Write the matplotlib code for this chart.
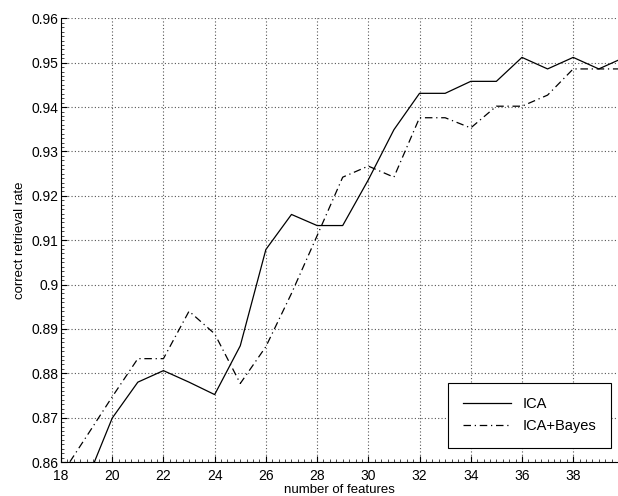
import matplotlib.pyplot as plt
from matplotlib.ticker import MultipleLocator

plt.rcParams['font.family'] = ['Liberation Sans', 'DejaVu Sans']

features = list(range(18, 41))
ica = [0.850, 0.8557, 0.8699, 0.878, 0.8806, 0.878, 0.8752, 0.8862, 0.9079,
       0.9158, 0.9133, 0.9133, 0.9236, 0.9349, 0.9431, 0.9431, 0.9458, 0.9458,
       0.9512, 0.9486, 0.9512, 0.9486, 0.9512]
ica_bayes = [0.857, 0.8658, 0.8747, 0.8833, 0.8833, 0.894, 0.8889, 0.8777, 0.886,
             0.898, 0.911, 0.9242, 0.9267, 0.9242, 0.9376, 0.9376, 0.9353, 0.9402,
             0.9402, 0.9427, 0.9486, 0.9486, 0.9486]
xticks = [18, 20, 22, 24, 26, 28, 30, 32, 34, 36, 38]
yticks = [0.86, 0.87, 0.88, 0.89, 0.9, 0.91, 0.92, 0.93, 0.94, 0.95, 0.96]
yticklabels = ['0.86', '0.87', '0.88', '0.89', '0.9', '0.91', '0.92', '0.93', '0.94', '0.95', '0.96']

fig = plt.figure(figsize=(6.18, 4.96), dpi=100)
ax = fig.add_axes([0.0987, 0.0685, 0.9013, 0.8945])

ax.plot(features, ica, color='black', linestyle='-', linewidth=0.9, label='ICA')
ax.plot(features, ica_bayes, color='black', linestyle=(0, (6, 3, 1, 3)), linewidth=0.9, label='ICA+Bayes')

ax.set_xlim(18, 39.75)
ax.set_ylim(0.86, 0.96)
ax.set_xticks(xticks)
ax.set_yticks(yticks)
ax.set_yticklabels(yticklabels)
ax.xaxis.set_minor_locator(MultipleLocator(0.25))
ax.yaxis.set_minor_locator(MultipleLocator(0.001))
ax.tick_params(which='major', direction='in', length=4, width=0.8, labelsize=10)
ax.tick_params(axis='x', which='major', pad=5)
ax.tick_params(axis='y', which='major', pad=2)
ax.tick_params(which='minor', direction='in', length=2, width=0.5)

ax.spines['top'].set_visible(False)
ax.spines['right'].set_visible(False)
ax.grid(True, which='major', linestyle=(0, (1, 2)), color='#555555', linewidth=0.8)

ax.set_xlabel('number of features', fontsize=9.5, labelpad=0.5)
ax.set_ylabel('correct retrieval rate', fontsize=9.5, labelpad=4)

leg = ax.legend(loc='lower right', fontsize=10.5, fancybox=False, framealpha=1,
                edgecolor='black', handlelength=3.3, borderpad=1.0, labelspacing=0.55,
                bbox_to_anchor=(1.0, 0.015))
leg.get_frame().set_linewidth(0.8)

fig.savefig('out.png', dpi=100)
